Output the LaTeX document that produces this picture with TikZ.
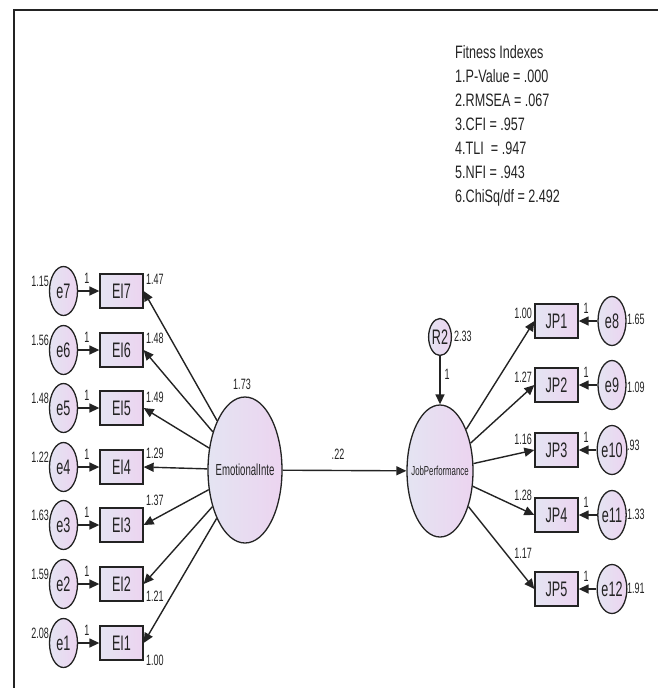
\documentclass[tikz,border=0pt]{standalone}
\usepackage{fontspec}
\setmainfont{Liberation Sans}[FakeStretch=0.6]
\newfontfamily\fitfont{Liberation Sans}[FakeStretch=0.7]
\usetikzlibrary{shapes.geometric,arrows.meta}
\definecolor{lavA}{RGB}{228,228,242}
\definecolor{lavB}{RGB}{236,212,240}
\definecolor{ink}{RGB}{35,35,35}
\tikzset{
  obs/.style={draw=ink,line width=1.3pt,left color=lavA,right color=lavB,minimum width=43pt,minimum height=34pt,inner sep=0pt,text=ink,font=\fontsize{21}{21}\selectfont},
  err/.style={ellipse,draw=ink,line width=1.3pt,left color=lavA,right color=lavB,minimum width=28pt,minimum height=49pt,inner sep=0pt,text=ink,font=\fontsize{21}{21}\selectfont},
  lat/.style={ellipse,draw=ink,line width=1.3pt,left color=lavA,right color=lavB,inner sep=0pt},
  num/.style={inner sep=0pt,text=ink,font=\fontsize{15}{15}\selectfont},
  arr/.style={line width=1.4pt,draw=ink,-{Triangle[length=10pt,width=9pt]}}
}
\begin{document}
\begin{tikzpicture}[x=1pt,y=-1pt]
\useasboundingbox (0,0) rectangle (658,688);
\draw[line width=2.5pt,ink] (14,688) -- (14,10) -- (658,10);
\node (fit) [anchor=north west,inner sep=0pt,align=left,text=ink,font=\fitfont\fontsize{18}{24}\selectfont] at (455,45)
  {Fitness Indexes\\1.P-Value = .000\\2.RMSEA = .067\\3.CFI = .957\\4.TLI~ = .947\\5.NFI = .943\\6.ChiSq/df = 2.492};
\node (emo) [lat,minimum width=74pt,minimum height=146pt] at (245,470) {};
\node (emotxt) [inner sep=0pt,text=ink,font=\fontsize{16}{16}\selectfont] at (emo) {EmotionalInte};
\node (emovar) [num] at (242,384) {1.73};
\node (jp) [lat,minimum width=66pt,minimum height=132pt] at (440,471) {};
\node (jptxt) [inner sep=0pt,text=ink,font=\fontsize{13}{13}\selectfont] at (jp) {JobPerformance};
\node (R2) [err,minimum width=22pt,minimum height=37pt] at (440,337) {R2};
\node (R2var) [num,anchor=west] at (454,336) {2.33};
\draw[arr] (R2) -- (jp);
\node (R2one) [num] at (447,374) {1};
\draw[arr] (emo) -- (jp);
\node (beta) [num] at (338,454) {.22};
\foreach \i/\y/\va/\ld/\dy in {7/291/1.15/1.47/-12,6/350/1.56/1.48/-12,5/408/1.48/1.49/-11,4/467/1.22/1.29/-14,3/525/1.63/1.37/-25,2/584/1.59/1.21/12,1/643/2.08/1.00/17}{
  \node (e\i) [err] at (63.5,\y) {e\i};
  \node (EI\i) [obs] at (121.5,\y) {EI\i};
  \draw[arr] (e\i) -- (EI\i);
  \draw[arr] (emo) -- (EI\i.east);
  \node (ev\i) [num,anchor=east] at (49,{\y-9.5}) {\va};
  \node (eo\i) [num] at (87,{\y-13}) {1};
  \node (ld\i) [num,anchor=west] at (146,{\y+\dy}) {\ld};
}
\foreach \i/\e/\y/\va/\dv/\ld/\dy in {1/8/321/1.65/-2/1.00/-8,2/9/385/1.09/2/1.27/-8,3/10/450/.93/-5/1.16/-11,4/11/515/1.33/-1/1.28/-20,5/12/589/1.91/-1/1.17/-36}{
  \node (JP\i) [obs] at (556.5,\y) {JP\i};
  \node (e\e) [err] at (612,\y) {e\e};
  \draw[arr] (e\e) -- (JP\i);
  \draw[arr] (jp) -- (JP\i.west);
  \node (ev\e) [num,anchor=west] at (627,{\y+\dv}) {\va};
  \node (eo\e) [num] at (586,{\y-13}) {1};
  \node (ld\i) [num,anchor=east] at (532,{\y+\dy}) {\ld};
}
\end{tikzpicture}
\end{document}
